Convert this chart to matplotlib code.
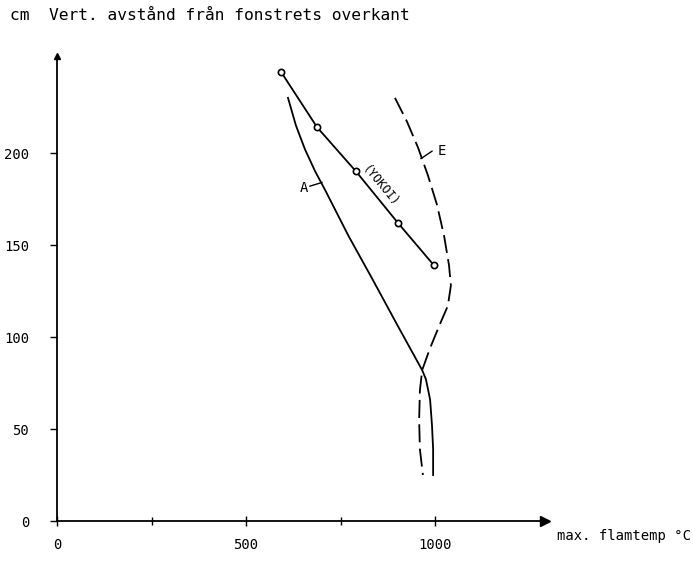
import matplotlib
matplotlib.use('Agg')
import matplotlib.pyplot as plt

# curve A (solid) - max flame temp vs vertical distance
tempA = [611, 632, 656, 683, 709, 771, 833, 899, 966, 976, 987, 992, 995, 995]
heightA = [230, 215, 202, 190, 180, 155, 132, 107, 82, 77, 66, 52, 39, 25]

# curve E (dashed)
tempE = [894, 926, 955, 981, 1005, 1024, 1037, 1042, 1034, 1013, 987, 966,
         960, 958, 960, 968]
heightE = [230, 217, 203, 188, 172, 155, 139, 128, 117, 107, 94, 82,
           71, 55, 39, 25]

# Yokoi measurements
tempY = [593, 688, 791, 902, 997]
heightY = [244, 214, 190, 162, 139]

xticks = [0, 500, 1000]
xminor = [250, 750]
yticks = [0, 50, 100, 150, 200]

plt.rcParams['font.family'] = 'DejaVu Sans Mono'

fig = plt.figure(figsize=(6.93, 5.66), dpi=100)
ax = fig.add_axes([0.0823, 0.0795, 0.7036, 0.8224])

ax.plot(tempA, heightA, color='black', lw=1.3)
ax.plot(tempE, heightE, color='black', lw=1.3, linestyle=(0, (10, 3.5)))
ax.plot(tempY, heightY, color='black', lw=1.3, marker='o', ms=4.5,
        markerfacecolor='white', markeredgewidth=1.2)

# curve labels with little leaders
ax.text(653, 181, 'A', fontsize=10, ha='center', va='center')
ax.plot([669, 701], [182, 184], color='black', lw=1)
ax.text(1018, 201, 'E', fontsize=10, ha='center', va='center')
ax.plot([992, 963], [201, 197], color='black', lw=1)
ax.text(854, 182, '(YOKOI)', fontsize=8.5, rotation=-50,
        ha='center', va='center')

ax.set_xlim(0, 1290)
ax.set_ylim(0, 253)
ax.spines['top'].set_visible(False)
ax.spines['right'].set_visible(False)
ax.spines['left'].set_linewidth(1.3)
ax.spines['bottom'].set_linewidth(1.3)

ax.set_xticks(xticks)
ax.set_xticks(xminor, minor=True)
ax.set_yticks(yticks)
ax.tick_params(axis='x', direction='inout', length=7, width=1, labelsize=10, pad=9)
ax.tick_params(axis='x', which='minor', direction='inout', length=6, width=1)
ax.tick_params(axis='y', direction='out', length=5, width=1, labelsize=10, pad=15)

# arrow heads at the axis ends
ax.plot([1290], [0], marker='>', ms=7, color='black', clip_on=False)
ax.plot([0], [253], marker='^', ms=5, color='black', clip_on=False)

fig.text(10 / 693, 1 - 15 / 566, 'cm  Vert. avstånd från fonstrets overkant',
         fontsize=11.7, ha='left', va='center')
fig.text(557 / 693, 1 - 536 / 566, 'max. flamtemp °C', fontsize=10,
         ha='left', va='center')

fig.savefig('out.png', dpi=100)
